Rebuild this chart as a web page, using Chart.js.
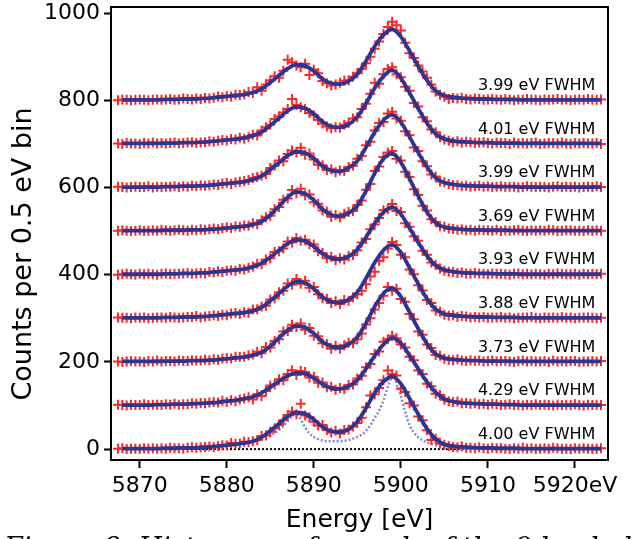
<!DOCTYPE html>
<html>
<head>
<meta charset="utf-8">
<script src="https://cdn.jsdelivr.net/npm/chart.js@4.4.1/dist/chart.umd.min.js"></script>
<style>
  html, body { margin: 0; padding: 0; background: #fff; }
</style>
</head>
<body>
<canvas id="spectra" width="632" height="539"></canvas>
<script>
// Mn K-alpha spectra, one per pixel, stacked by 100 counts.
// Measured counts are in 0.5 eV bins starting at BIN_START;
// fitted curves are sampled every 1 eV starting at FIT_START.
const BIN_START = 5867.5;
const BIN_WIDTH = 0.5;
const FIT_START = 5868;
const FIT_STEP = 1;

const traceOffsets = [0, 100, 200, 300, 400, 500, 600, 700, 800];
const fwhmValues = ['4.00', '4.29', '3.73', '3.88', '3.93', '3.69', '3.99', '4.01', '3.99'];

const xTickValues = [5870, 5880, 5890, 5900, 5910, 5920];
const yTickValues = [0, 200, 400, 600, 800, 1000];

// measured counts per bin
const counts0 = [1,2,0,1,1,0,2,1,2,1, 2,1,3,2,2,1,3,4,3,4, 5,6,
  4,7,9,8,14,12,13,17,16,18,21,30,
  31,40,48,55,66,78,86,80,104,77,73,63,54,55,44,38,42,
  36,44,45,52,60,72,96,123,126,140,158,180,
  172,169,139,131,105,100,75,66,43,21,24,12,10,
  7,5,4,6,3,3,2,4,2,1, 3,2,2,1,0,2,1,3,1,2, 0,1,2,1,3,2,1,1,0,2, 1,2,1,0,1,2];
const counts100 = [2,1,0,2,1,1,3,1,2,2, 1,3,2,4,2,3,3,5,4,6, 5,7,
  8,7,11,8,12,10,14,16,19,14,26,22,
  33,46,48,60,58,72,81,70,79,77,64,66,52,53,42,43,36,
  40,37,47,48,62,68,88,95,118,124,146,152,
  160,154,140,133,112,104,80,72,50,44,27,24,13,
  10,8,9,5,6,4,5,3,4,2, 4,3,1,2,3,1,2,0,2,1, 3,1,2,1,0,2,1,2,1,3, 1,0,2,1,2,1];
const counts200 = [1,0,1,2,1,1,0,2,1,3, 1,2,2,1,3,2,2,4,3,3, 5,4,
  6,5,8,9,8,12,11,12,15,17,23,20,
  34,33,48,52,70,71,85,80,88,74,78,60,59,43,41,30,37,
  30,38,44,43,52,65,86,100,120,135,152,172,
  163,168,144,138,110,98,70,62,40,32,16,14,7,
  5,4,6,3,2,4,2,3,1,2, 3,1,2,2,1,0,2,3,1,2, 1,1,2,0,3,1,2,1,2,2, 0,1,1,2,1,2];
const counts300 = [2,1,1,0,2,1,2,0,1,2, 2,1,3,2,1,2,3,3,5,2, 4,5,
  7,5,8,7,11,12,10,14,13,20,21,27,
  29,43,46,60,63,80,77,90,79,86,70,72,55,46,45,35,39,
  33,42,40,48,55,63,78,96,107,132,140,160,
  175,168,146,140,112,101,76,64,42,35,18,15,8,
  6,7,3,5,4,2,3,2,3,1, 2,2,3,1,2,0,1,2,2,3, 1,0,2,1,2,1,3,1,2,0, 1,2,2,1,0,1];
const counts400 = [0,1,2,1,0,2,1,2,1,0, 2,3,1,2,2,3,4,2,3,4, 3,6,
  5,8,6,9,10,9,13,12,16,19,25,24,
  35,38,52,54,60,76,74,84,78,80,70,69,54,50,38,41,33,
  38,35,43,45,56,74,82,104,115,130,148,150,
  162,146,144,118,110,88,78,55,46,28,22,14,9,
  7,6,4,5,3,2,4,3,2,1, 3,2,2,1,0,2,3,1,2,1, 2,1,0,2,1,3,2,1,1,2, 0,2,1,2,1,2];
const counts500 = [1,2,1,0,1,2,0,1,2,1, 3,2,1,2,3,2,1,3,2,4, 3,4,
  6,4,7,9,7,11,10,13,12,18,16,25,
  32,35,50,55,72,75,94,87,97,82,84,66,63,47,45,33,37,
  31,40,44,46,60,70,95,108,138,148,170,180,
  184,166,162,136,124,96,83,58,47,27,21,11,10,
  6,5,3,4,2,3,1,3,2,2, 1,3,0,2,1,2,3,1,0,2, 1,2,1,3,2,0,1,2,2,1, 1,0,2,1,2,1];
const counts600 = [2,1,0,1,2,1,1,3,0,2, 1,2,2,3,1,3,2,4,3,5, 4,5,
  7,6,9,11,8,12,13,15,17,22,24,27,
  31,45,50,62,60,77,85,80,91,75,78,64,52,51,40,42,35,
  39,38,47,50,66,72,97,105,131,148,150,170,
  174,158,153,129,120,92,84,60,49,30,25,14,12,
  8,6,5,3,4,2,3,4,2,3, 1,2,3,1,2,2,0,1,3,2, 1,2,1,0,2,3,1,2,1,2, 0,1,2,1,3,1];
const counts700 = [1,0,2,1,1,0,2,1,3,1, 2,1,2,3,1,2,3,4,2,3, 4,6,
  5,7,9,8,11,10,14,12,15,21,19,31,
  38,44,57,63,72,80,103,89,84,80,71,66,55,47,40,36,38,
  37,44,48,58,61,80,92,115,140,138,160,172,
  176,160,153,131,122,94,86,61,52,33,27,15,10,
  7,4,6,3,5,4,2,3,4,2, 1,3,2,2,0,3,1,2,1,2, 3,0,1,2,2,1,3,1,0,2, 1,2,1,1,2,0];
const counts800 = [0,2,1,0,1,2,1,0,1,2, 1,2,3,1,2,4,3,2,4,3, 5,4,
  6,9,7,10,9,13,12,14,19,17,30,22,
  36,46,55,52,68,93,87,80,76,84,58,70,62,44,39,34,36,
  40,45,46,54,62,72,85,100,118,135,152,168,
  180,172,160,132,108,97,80,66,52,36,20,13,8,
  3,5,4,6,3,2,4,3,1,2, 3,2,1,3,2,0,2,1,3,2, 1,0,2,1,2,3,1,2,0,1, 2,1,3,2,1,2];

// fitted model per trace
const fit0 = [1,1,1,1,1,2,2,3,3,4,5,7,9,11,14,
  18,27,42,58,75,84,81,68,51,41,39,46,63,94,129,155,167,150,116,80,47,23,11,7,5,4,3,3,2,2,2,
  1,1,1,1,1,1,1,1,1,1];
const fit100 = [1,1,1,1,2,2,3,3,4,5,6,7,10,12,15,
  20,29,42,56,68,75,73,63,49,40,38,44,58,84,114,140,155,143,115,84,54,30,15,9,6,5,4,3,3,2,2,
  1,1,1,1,1,1,1,1,1,1];
const fit200 = [1,1,1,1,1,2,2,2,3,3,4,5,7,9,11,
  15,22,36,55,73,82,79,65,46,35,33,40,57,89,127,157,169,150,114,76,42,18,9,6,4,3,3,2,2,2,1,
  1,1,1,1,1,1,1,1,1,1];
const fit300 = [1,1,1,1,1,2,2,3,3,4,5,7,9,11,13,
  17,25,40,57,74,84,81,68,49,38,36,43,60,92,128,156,169,151,116,79,45,21,10,7,5,4,3,3,2,2,2,
  1,1,1,1,1,1,1,1,1,1];
const fit400 = [1,1,1,1,1,2,2,3,3,4,5,7,9,11,13,
  18,26,40,56,71,80,77,65,48,38,36,42,58,86,118,143,155,139,107,74,43,21,11,7,5,4,3,3,2,2,2,
  1,1,1,1,1,1,1,1,1,1];
const fit500 = [1,1,1,1,1,2,2,2,3,3,4,5,7,9,11,
  15,22,37,57,78,90,86,71,50,37,34,41,58,92,133,166,178,158,120,80,44,19,9,6,4,3,3,2,2,2,1,
  1,1,1,1,1,1,1,1,1,1];
const fit600 = [1,1,1,1,1,2,2,3,3,4,5,7,9,11,13,
  18,26,41,57,73,82,79,67,49,39,37,45,61,92,127,154,167,150,116,80,47,22,11,7,5,4,3,3,2,2,2,
  1,1,1,1,1,1,1,1,1,1];
const fit700 = [1,1,1,1,1,2,2,3,3,4,5,7,9,11,14,
  19,27,42,59,76,85,82,69,51,40,38,45,62,93,128,155,169,151,117,81,48,23,12,7,5,4,3,3,2,2,2,
  1,1,1,1,1,1,1,1,1,1];
const fit800 = [1,1,1,1,1,2,2,3,3,4,5,7,9,11,13,
  18,26,41,57,73,82,79,67,49,39,37,44,60,90,124,150,163,146,113,78,46,22,11,7,5,4,3,3,2,2,2,
  1,1,1,1,1,1,1,1,1,1];

const traceCounts = [counts0, counts100, counts200, counts300, counts400, counts500, counts600, counts700, counts800];
const traceFits = [fit0, fit100, fit200, fit300, fit400, fit500, fit600, fit700, fit800];

// intrinsic line shape shown under the lowest trace
const lineShapeEnergy = [5867.5, 5870, 5872, 5874, 5876, 5877, 5878, 5879, 5880, 5881, 5882, 5883, 5884,
  5884.5, 5885, 5885.5, 5886, 5886.5, 5887, 5887.5, 5887.8, 5888.2, 5888.5, 5889, 5889.5, 5890,
  5890.5, 5891, 5891.5, 5892, 5892.5, 5893, 5893.5, 5894, 5894.5, 5895, 5895.5, 5896, 5896.5,
  5897, 5897.5, 5898, 5898.5, 5899, 5899.2, 5899.5, 5900, 5900.5, 5901, 5901.5, 5902, 5902.5,
  5903, 5903.5, 5904, 5905, 5906, 5907, 5908, 5910, 5915, 5923];
const lineShapeCounts = [1, 1, 2, 3, 4, 5, 6, 7, 9, 11, 13, 17, 22,
  26, 31, 37, 44, 53, 64, 75, 79, 76, 68, 50, 36, 28,
  23, 20, 18, 18, 18, 18, 19, 21, 24, 28, 33, 42, 55,
  72, 88, 112, 142, 166, 168, 150, 122, 85, 55, 38, 27, 20,
  15, 12, 9, 5, 3, 2, 1, 1, 0, 0];

const baselineEnergy = [5867.5, 5923];
const baselineCounts = [0, 0];

const yTitle = 'Counts per 0.5 eV bin';
const caption = 'Figure 8: Histograms for each of the 9 loaded pixels';

const datasets = [];
traceOffsets.forEach((off, k) => {
  datasets.push({
    type: 'line',
    data: traceFits[k].map((c, i) => ({ x: FIT_START + i * FIT_STEP, y: c + off })),
    borderColor: '#2c3590',
    borderWidth: 3.8,
    pointRadius: 0,
    cubicInterpolationMode: 'monotone',
    order: 0
  });
  datasets.push({
    type: 'scatter',
    data: traceCounts[k].map((c, i) => ({ x: BIN_START + i * BIN_WIDTH, y: c + off })),
    pointStyle: 'cross',
    pointRadius: 5,
    borderColor: '#ff2626',
    borderWidth: 2,
    backgroundColor: '#ff2626',
    order: 1
  });
});
datasets.push({
  type: 'line',
  data: lineShapeEnergy.map((e, i) => ({ x: e, y: lineShapeCounts[i] })),
  borderColor: '#8888cc',
  borderWidth: 2.5,
  borderDash: [2, 2],
  pointRadius: 0,
  cubicInterpolationMode: 'monotone',
  order: 2
});
datasets.push({
  type: 'line',
  data: baselineEnergy.map((e, i) => ({ x: e, y: baselineCounts[i] })),
  borderColor: '#000',
  borderWidth: 2,
  borderDash: [2, 2],
  pointRadius: 0,
  order: 3
});

// frame, y title, FWHM annotations and the figure caption
const decorations = {
  id: 'decorations',
  afterDraw(chart) {
    const { ctx, chartArea: a, scales: { x, y } } = chart;
    ctx.save();
    ctx.strokeStyle = '#000';
    ctx.lineWidth = 2;
    ctx.strokeRect(a.left, a.top, a.right - a.left, a.bottom - a.top);

    ctx.fillStyle = '#000';
    ctx.save();
    ctx.translate(24, 254);
    ctx.rotate(-Math.PI / 2);
    ctx.font = '27px "DejaVu Sans"';
    ctx.textAlign = 'center';
    ctx.textBaseline = 'middle';
    ctx.fillText(yTitle, 0, 0);
    ctx.restore();

    ctx.font = '16px "DejaVu Sans"';
    ctx.textAlign = 'center';
    ctx.textBaseline = 'middle';
    fwhmValues.forEach((w, k) => {
      ctx.fillText(w + ' eV FWHM', x.getPixelForValue(5915.6), y.getPixelForValue(traceOffsets[k] + 33));
    });

    ctx.font = 'italic 27px "DejaVu Serif"';
    ctx.textAlign = 'left';
    ctx.textBaseline = 'alphabetic';
    ctx.fillText(caption, 4, 557);
    ctx.restore();
  }
};

new Chart(document.getElementById('spectra'), {
  type: 'scatter',
  data: { datasets },
  plugins: [decorations],
  options: {
    responsive: false,
    animation: false,
    layout: { padding: { top: 5, right: 24, left: 0, bottom: 0 } },
    plugins: { legend: { display: false }, tooltip: { enabled: false } },
    scales: {
      x: {
        type: 'linear',
        min: 5866.7,
        max: 5923.8,
        afterBuildTicks: axis => { axis.ticks = xTickValues.map(v => ({ value: v })); },
        afterFit: axis => { axis.height = 79; axis.paddingLeft = 0; axis.paddingRight = 0; },
        ticks: {
          color: '#000',
          padding: 5,
          maxRotation: 0,
          font: { family: 'DejaVu Sans', size: 22 },
          callback: v => (v === 5920 ? '5920eV' : String(v))
        },
        grid: { display: true, drawOnChartArea: false, drawTicks: true, tickLength: 8, tickColor: '#000', tickWidth: 2 },
        border: { display: false },
        title: {
          display: true,
          text: 'Energy [eV]',
          color: '#000',
          font: { family: 'DejaVu Sans', size: 25 },
          padding: { top: 0, bottom: 4 }
        }
      },
      y: {
        type: 'linear',
        min: -25,
        max: 1014,
        afterBuildTicks: axis => { axis.ticks = yTickValues.map(v => ({ value: v })); },
        afterFit: axis => { axis.width = 111; axis.paddingTop = 0; axis.paddingBottom = 0; },
        ticks: {
          color: '#000',
          padding: 4,
          font: { family: 'DejaVu Sans', size: 22 },
          callback: v => String(v)
        },
        grid: { display: true, drawOnChartArea: false, drawTicks: true, tickLength: 7, tickColor: '#000', tickWidth: 2 },
        border: { display: false },
        title: { display: false }
      }
    }
  }
});
</script>
</body>
</html>
